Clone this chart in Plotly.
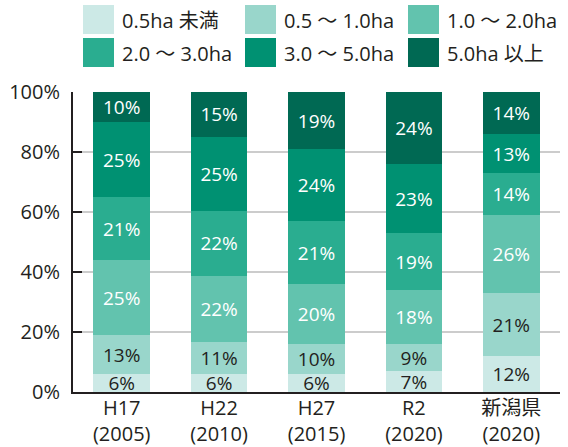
import plotly.graph_objects as go

categories = ["H17<br>(2005)", "H22<br>(2010)", "H27<br>(2015)", "R2<br>(2020)", "新潟県<br>(2020)"]
series_names = ["0.5ha 未満", "0.5 ～ 1.0ha", "1.0 ～ 2.0ha", "2.0 ～ 3.0ha", "3.0 ～ 5.0ha", "5.0ha 以上"]
v_lt05 = [6, 6, 6, 7, 12]
v_05_10 = [13, 11, 10, 9, 21]
v_10_20 = [25, 22, 20, 18, 26]
v_20_30 = [21, 22, 21, 19, 14]
v_30_50 = [25, 25, 24, 23, 13]
v_ge50 = [10, 15, 19, 24, 14]
y_ticks = [0, 20, 40, 60, 80, 100]
y_ticklabels = ["0%", "20%", "40%", "60%", "80%", "100%"]

colors = ["#cce9e6", "#99d6cb", "#62c3ae", "#2aad90", "#009172", "#006953"]
text_colors = ["#231f20", "#231f20", "white", "white", "white", "white"]
FONT = "Open Sans, Noto Sans CJK JP"
DARK = "#231f20"

all_values = [v_lt05, v_05_10, v_10_20, v_20_30, v_30_50, v_ge50]

fig = go.Figure()
for name, vals, col, tcol in zip(series_names, all_values, colors, text_colors):
    fig.add_trace(go.Bar(
        x=categories, y=vals, name=name, marker=dict(color=col, line=dict(width=0)),
        text=[f"{v}%" for v in vals], texttemplate="%{text}",
        textposition="inside", insidetextanchor="middle", textangle=0,
        constraintext="none",
        textfont=dict(family=FONT, size=19, color=tcol),
        showlegend=False, hoverinfo="skip",
    ))

W, H = 568, 447
ML, MR, MT, MB = 73, 8, 92, 55
pw, ph = W - ML - MR, H - MT - MB

def px(x):
    return (x - ML) / pw

def py(y):
    return (H - MB - y) / ph

shapes = []
annotations = []
col_x = [83, 245, 408]
row_y = [5, 38]
for i, (name, col) in enumerate(zip(series_names, colors)):
    r, c = divmod(i, 3)
    x0 = col_x[c]
    y0 = row_y[r]
    shapes.append(dict(type="rect", xref="paper", yref="paper",
                       x0=px(x0), x1=px(x0 + 31), y0=py(y0 + 29), y1=py(y0),
                       fillcolor=col, line=dict(width=0)))
    annotations.append(dict(xref="paper", yref="paper", x=px(x0 + 37), y=py(y0 + 15),
                            text=name, showarrow=False, xanchor="left", yanchor="middle",
                            font=dict(family=FONT, size=20, color=DARK)))

fig.update_layout(
    width=W, height=H,
    margin=dict(l=ML, r=MR, t=MT, b=MB),
    barmode="stack", barnorm="percent", bargap=0.42,
    plot_bgcolor="white", paper_bgcolor="white",
    font=dict(family=FONT, color=DARK),
    shapes=shapes, annotations=annotations,
    xaxis=dict(showline=True, linecolor=DARK, linewidth=2, ticks="",
               tickfont=dict(family=FONT, size=20, color=DARK),
               ticklabelstandoff=-3,
               automargin=False, fixedrange=True),
    yaxis=dict(range=[0, 100], tickvals=y_ticks, ticktext=y_ticklabels,
               showgrid=True, gridcolor="#cccccc", gridwidth=1.5,
               showline=True, linecolor=DARK, linewidth=2,
               ticks="inside", ticklen=9, tickwidth=2, tickcolor=DARK,
               ticklabelstandoff=7,
               tickfont=dict(family=FONT, size=20, color=DARK),
               automargin=False, zeroline=False, fixedrange=True),
)

fig.write_html("out.html", config={"displayModeBar": False},
               post_script="document.body.style.margin='0';document.body.style.overflow='hidden';")
